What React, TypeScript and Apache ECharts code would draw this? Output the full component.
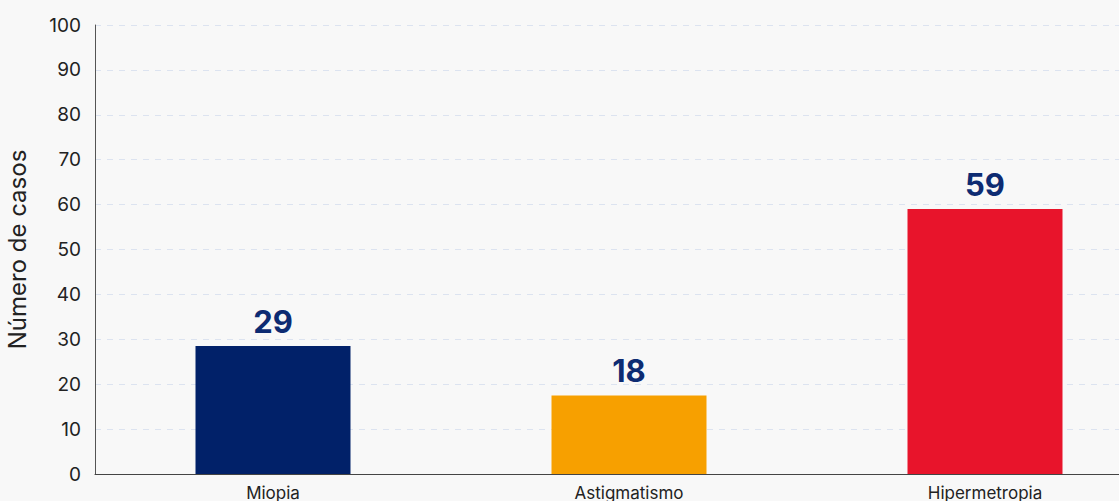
import React, { useEffect, useRef } from "react";
import * as echarts from "echarts";

const categories = ["Miopia", "Astigmatismo", "Hipermetropia"];
const barValues = [28.5, 17.5, 59];
const valueLabels = ["29", "18", "59"];
const barColors = ["#012169", "#f7a000", "#e8142b"];
const yTicks = { min: 0, max: 100, interval: 10 };

export default function App() {
  const ref = useRef<HTMLDivElement>(null);
  useEffect(() => {
    if (!ref.current) return;
    const chart = echarts.init(ref.current, null, { renderer: "svg" });
    chart.setOption({
      animation: false,
      backgroundColor: "#f8f8f8",
      textStyle: { fontFamily: "Inter" },
      grid: { left: 95, right: 0, top: 25, bottom: 27, containLabel: false, outerBoundsMode: "none" },
      xAxis: {
        type: "category",
        data: categories,
        axisLine: { show: true, lineStyle: { color: "#444", width: 1 } },
        axisTick: { show: false },
        axisLabel: { color: "#222", fontSize: 17, margin: 10, fontFamily: "Inter" },
      },
      yAxis: {
        type: "value",
        min: yTicks.min,
        max: yTicks.max,
        interval: yTicks.interval,
        name: "Número de casos",
        nameLocation: "middle",
        nameGap: 66,
        nameTextStyle: { color: "#222", fontSize: 24, fontFamily: "Inter" },
        axisLine: { show: true, lineStyle: { color: "#555", width: 1 } },
        axisTick: { show: false },
        axisLabel: { color: "#222", fontSize: 19, margin: 14, fontFamily: "Inter" },
        splitLine: { show: true, lineStyle: { color: "#dce3f0", type: [6, 6], width: 1 } },
      },
      series: [
        {
          type: "bar",
          barWidth: 155,
          data: barValues.map((v, i) => ({ value: v, itemStyle: { color: barColors[i] } })),
          label: {
            show: true,
            position: "top",
            distance: 9,
            formatter: (p: any) => valueLabels[p.dataIndex],
            color: "#0d2b72",
            fontSize: 31,
            fontWeight: "bold",
            fontFamily: "Inter",
          },
        },
      ],
    });
    return () => chart.dispose();
  }, []);
  return (
    <div style={{ position: "fixed", left: 0, top: 0, width: 1119, height: 501, overflow: "hidden" }}>
      <div ref={ref} style={{ width: 1163, height: 501 }} />
    </div>
  );
}
